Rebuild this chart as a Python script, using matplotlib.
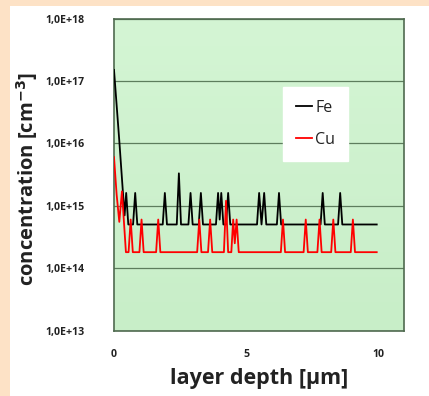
import matplotlib
matplotlib.use("Agg")
import matplotlib.pyplot as plt
import numpy as np
from matplotlib.patches import Rectangle
from matplotlib.colors import LinearSegmentedColormap

# ---- data (vertices) ----
fe_x = [0.0, 0.2, 0.33, 0.4, 0.46, 0.54, 0.72, 0.8, 0.88,
        1.84, 1.92, 2.0, 2.37, 2.45, 2.53, 2.81, 2.89, 2.97,
        3.2, 3.28, 3.36, 3.85, 3.93, 3.99, 4.05, 4.13, 4.23, 4.31, 4.39,
        5.40, 5.48, 5.57, 5.67, 5.75, 6.15, 6.23, 6.31,
        7.80, 7.88, 7.96, 8.46, 8.54, 8.62, 9.92]
fe_y = [1.5e17, 1.1e16, 1.8e15, 7e14, 1.6e15, 5e14, 5e14, 1.6e15, 5e14,
        5e14, 1.6e15, 5e14, 5e14, 3.3e15, 5e14, 5e14, 1.6e15, 5e14,
        5e14, 1.6e15, 5e14, 5e14, 1.6e15, 6e14, 1.6e15, 5e14, 5e14, 1.6e15, 5e14,
        5e14, 1.6e15, 5e14, 1.6e15, 5e14, 5e14, 1.6e15, 5e14,
        5e14, 1.6e15, 5e14, 5e14, 1.6e15, 5e14, 5e14]

cu_x = [0.0, 0.1, 0.2, 0.3, 0.45, 0.55, 0.63, 0.71, 0.96, 1.04, 1.12,
        1.59, 1.67, 1.75, 3.14, 3.22, 3.30, 3.55, 3.63, 3.71,
        4.15, 4.23, 4.31, 4.43, 4.50, 4.56, 4.63, 4.71,
        6.30, 6.38, 6.46, 7.16, 7.24, 7.32, 7.68, 7.76, 7.84,
        8.20, 8.28, 8.36, 8.94, 9.02, 9.10, 9.92]
cu_y = [6e15, 1.5e15, 5.5e14, 1.7e15, 1.8e14, 1.8e14, 6e14, 1.8e14, 1.8e14, 6e14, 1.8e14,
        1.8e14, 6e14, 1.8e14, 1.8e14, 6e14, 1.8e14, 1.8e14, 6e14, 1.8e14,
        1.8e14, 1.2e15, 1.8e14, 1.8e14, 6e14, 2.5e14, 6e14, 1.8e14,
        1.8e14, 6e14, 1.8e14, 1.8e14, 6e14, 1.8e14, 1.8e14, 6e14, 1.8e14,
        1.8e14, 6e14, 1.8e14, 1.8e14, 6e14, 1.8e14, 1.8e14]

y_ticks = [1e13, 1e14, 1e15, 1e16, 1e17, 1e18]
y_tick_labels = ["1,0E+13", "1,0E+14", "1,0E+15", "1,0E+16", "1,0E+17", "1,0E+18"]
x_ticks = [0, 5, 10]

plt.rcParams['font.family'] = ['Open Sans', 'DejaVu Sans']

fig = plt.figure(figsize=(4.29, 3.96), dpi=100, facecolor='white')
# peach frame strips
fig.patches.append(Rectangle((0, 0), 10/429, 1, transform=fig.transFigure,
                             facecolor='#fde2c6', edgecolor='none', zorder=0))
fig.patches.append(Rectangle((0, 1-6/396), 1, 6/396, transform=fig.transFigure,
                             facecolor='#fde2c6', edgecolor='none', zorder=0))

ax = fig.add_axes([114/429, 65.5/396, 290/429, 312/396])
ax.set_facecolor('#cdf0cd')
grad = np.linspace(0, 1, 100).reshape(-1, 1)
cmap = LinearSegmentedColormap.from_list('g', ['#c8eec8', '#d4f5d4'])
ax.imshow(grad, aspect='auto', cmap=cmap, extent=[0, 1, 0, 1],
          transform=ax.transAxes, origin='lower', zorder=0)

ax.plot(fe_x, fe_y, color='black', lw=1.3, label='Fe', zorder=3)
ax.plot(cu_x, cu_y, color='#ff0000', lw=1.3, label='Cu', zorder=3)

ax.set_yscale('log')
ax.set_ylim(1e13, 1e18)
ax.set_xlim(0, 10.95)
ax.set_yticks(y_ticks)
ax.set_yticklabels(y_tick_labels)
ax.minorticks_off()
ax.set_xticks(x_ticks)
ax.tick_params(length=0, labelsize=7.6)
ax.tick_params(axis='y', pad=21)
ax.tick_params(axis='x', pad=13)
for lab in ax.get_xticklabels() + ax.get_yticklabels():
    lab.set_fontweight('bold')
    lab.set_color('#222222')

ax.grid(True, axis='y', color='#5d7d5d', lw=0.9, zorder=1)
for s in ax.spines.values():
    s.set_color('#4f6a4f')
    s.set_linewidth(1.2)

ax.set_xlabel('layer depth [µm]', fontsize=15.5, fontweight='bold', labelpad=6, color='#222222')
ax.set_ylabel(r'concentration [cm$^{\mathbf{-3}}$]', fontsize=14.5, fontweight='bold',
              color='#222222')
ax.yaxis.set_label_coords(-0.255, 0.485)

leg = ax.legend(loc='upper left', bbox_to_anchor=(0.583, 0.78), frameon=True,
                fancybox=False, framealpha=1, edgecolor='white', facecolor='white',
                fontsize=11.5, handlelength=1.0, handletextpad=0.2, labelspacing=1.0,
                borderpad=0.8, borderaxespad=0)
for t in leg.get_texts():
    t.set_color('#222222')

fig.savefig('out.png', dpi=100)
